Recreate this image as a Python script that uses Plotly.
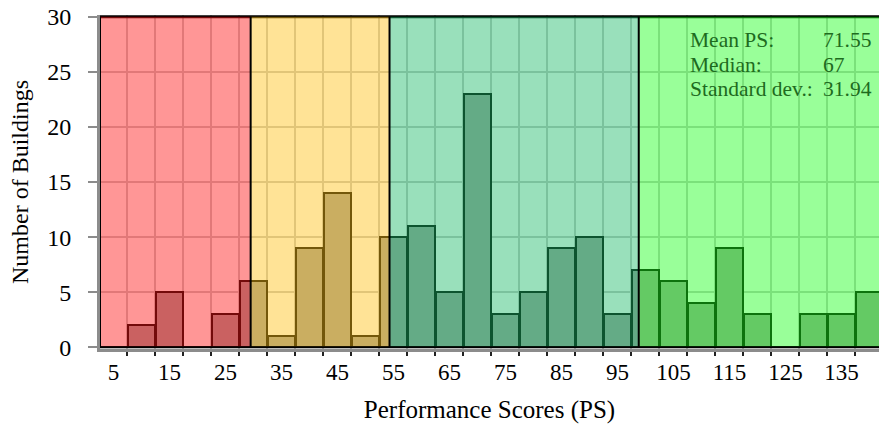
import plotly.graph_objects as go

# ---- data ----
score_bins = list(range(5, 145, 5))
building_counts = [0, 2, 5, 0, 3, 6, 1, 9, 14, 1, 10, 11, 5, 23, 3, 5, 9, 10, 3,
                   7, 6, 4, 9, 3, 0, 3, 3, 5]
tick_labels = [5, 15, 25, 35, 45, 55, 65, 75, 85, 95, 105, 115, 125, 135]
band_edges = [2.6, 29.5, 54.3, 98.8, 141.7]
stat_names = ["Mean PS:", "Median:", "Standard dev.:"]
stat_values = ["71.55", "67", "31.94"]

# ---- styles ----
FONT = "Liberation Serif"
band_colors = ["rgba(255,22,22,0.45)", "rgba(255,193,22,0.45)",
               "rgba(29,187,104,0.45)", "rgba(29,255,29,0.45)"]
x_min, x_max = band_edges[0], band_edges[-1]
y_top = 30

fig = go.Figure()
fig.add_trace(go.Bar(
    x=score_bins, y=building_counts, width=4.85,
    marker=dict(color="#9F9F9F", line=dict(color="black", width=2)),
    showlegend=False,
))

shapes = []
shapes.append(dict(type="line", xref="x", yref="y", x0=x_min, x1=x_max, y0=y_top, y1=y_top,
                   line=dict(color="black", width=3), layer="between"))
for i, col in enumerate(band_colors):
    shapes.append(dict(type="rect", xref="x", yref="y", x0=band_edges[i], x1=band_edges[i + 1],
                       y0=0, y1=y_top, fillcolor=col, line=dict(width=0), layer="above"))
for e in band_edges[:-1]:
    shapes.append(dict(type="line", xref="x", yref="y", x0=e, x1=e, y0=0, y1=y_top,
                       line=dict(color="black", width=2), layer="above"))
shapes.append(dict(type="line", xref="x", yref="y", x0=x_min, x1=x_max, y0=0, y1=0,
                   line=dict(color="black", width=2), layer="above"))

annotations = []
row_y = [27.9, 25.6, 23.4]
for name, val, yy in zip(stat_names, stat_values, row_y):
    annotations.append(dict(x=107.6, y=yy, xref="x", yref="y", text=name, showarrow=False,
                            xanchor="left", yanchor="middle",
                            font=dict(family=FONT, size=21.5, color="#1E6B1E")))
    annotations.append(dict(x=131.3, y=yy, xref="x", yref="y", text=val, showarrow=False,
                            xanchor="left", yanchor="middle",
                            font=dict(family=FONT, size=21.5, color="#1E6B1E")))

fig.update_layout(
    width=879, height=434,
    margin=dict(l=100, r=0, t=15, b=85),
    paper_bgcolor="white", plot_bgcolor="white",
    bargap=0,
    shapes=shapes, annotations=annotations,
    font=dict(family=FONT, size=22, color="black"),
    xaxis=dict(
        range=[x_min, x_max], automargin=False,
        tickmode="array", tickvals=tick_labels, ticktext=[str(t) for t in tick_labels],
        ticks="", showgrid=False, zeroline=False,
        showline=True, linecolor="#8C8C8C", linewidth=3,
        ticklabelstandoff=0,
        tickfont=dict(family=FONT, size=23, color="black"),
        minor=dict(tick0=2.5, dtick=5, ticks="outside", ticklen=4, tickwidth=2,
                   tickcolor="#222222", showgrid=True, gridcolor="#C8C8C8", gridwidth=2),
        title=dict(text="Performance Scores (PS)", font=dict(family=FONT, size=25), standoff=17),
    ),
    yaxis=dict(
        range=[-0.15, 30.15], automargin=False,
        tickmode="array", tickvals=[0, 5, 10, 15, 20, 25, 30],
        ticks="outside", ticklen=9, tickwidth=2, tickcolor="#8C8C8C",
        showgrid=True, gridcolor="#C8C8C8", gridwidth=2, zeroline=False,
        showline=True, linecolor="#8C8C8C", linewidth=3,
        ticklabelstandoff=12,
        tickfont=dict(family=FONT, size=24, color="black"),
        title=dict(text="Number of Buildings", font=dict(family=FONT, size=24), standoff=12),
    ),
)

fig.write_html(
    "out.html",
    config={"displayModeBar": False},
    post_script="document.body.style.margin='0';document.body.style.overflow='hidden';",
)
